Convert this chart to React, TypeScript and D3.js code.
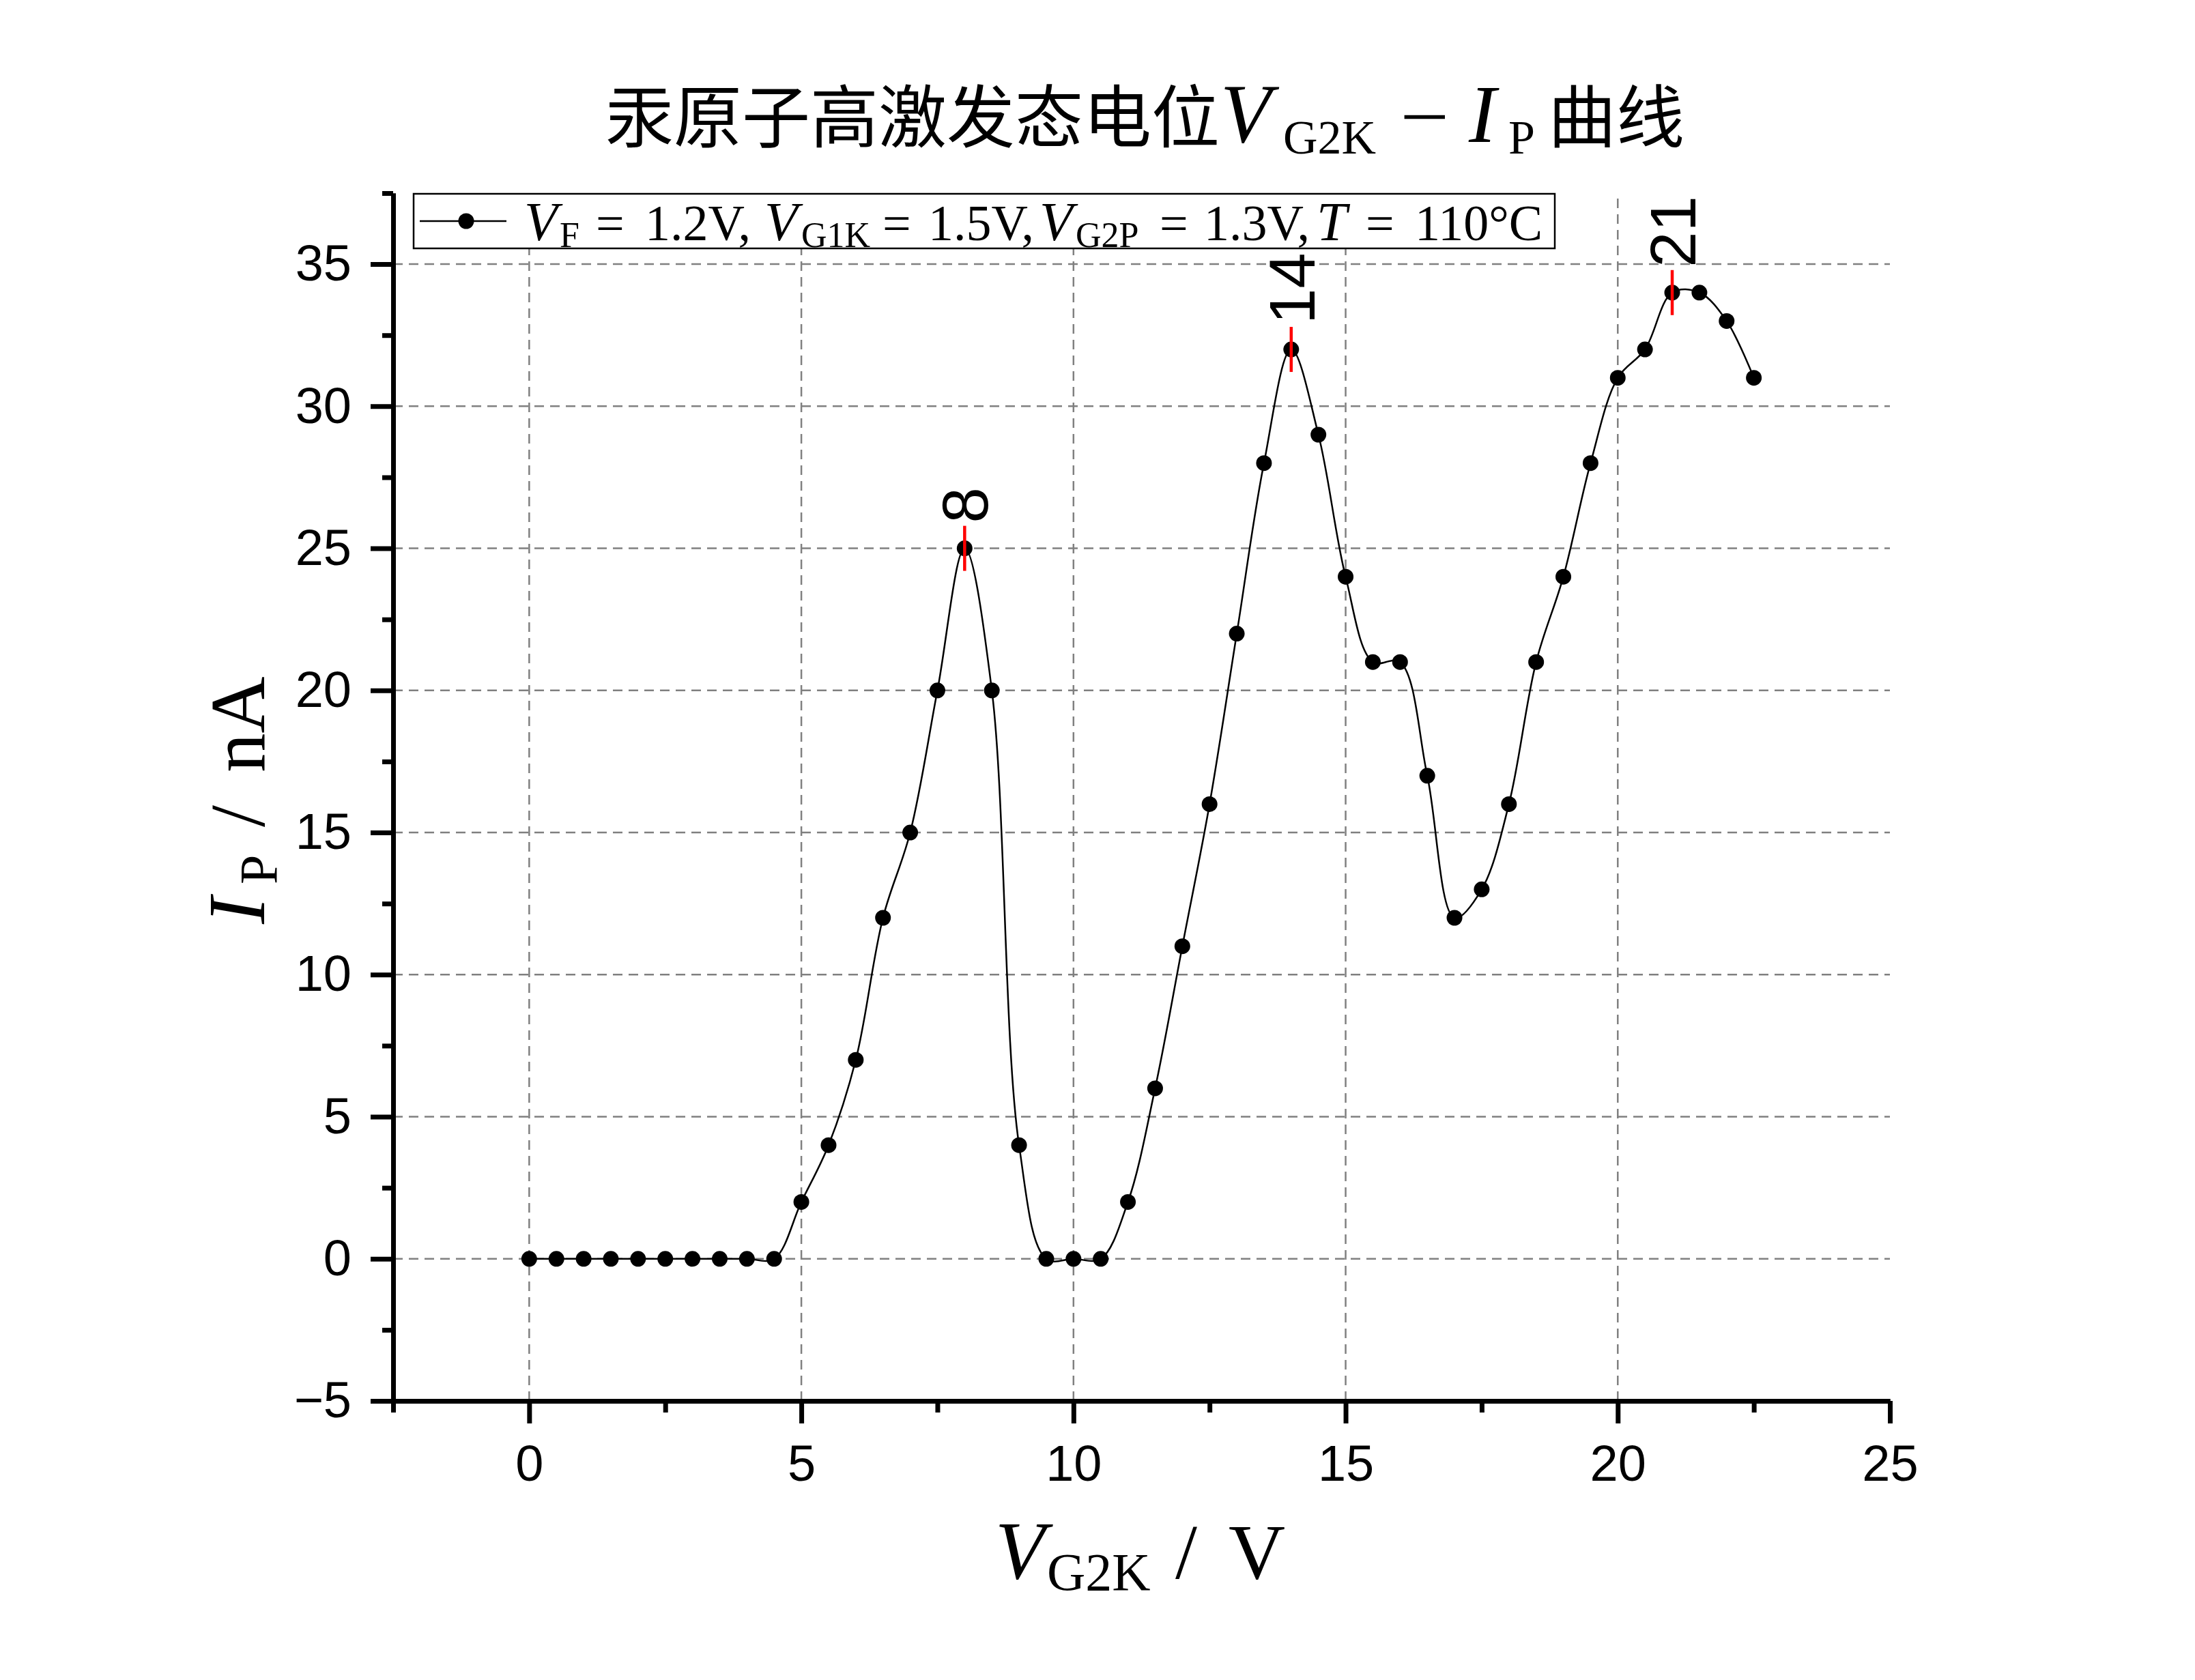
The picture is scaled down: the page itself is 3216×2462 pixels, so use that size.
import React, { useEffect, useRef } from 'react'
import * as d3 from 'd3'

// V_G2K (V) and I_P (nA)
const voltage = [
  0, 0.5, 1, 1.5, 2, 2.5, 3, 3.5, 4, 4.5,
  5, 5.5, 6, 6.5, 7, 7.5, 8, 8.5, 9, 9.5,
  10, 10.5, 11, 11.5, 12, 12.5, 13, 13.5, 14, 14.5,
  15, 15.5, 16, 16.5, 17, 17.5, 18, 18.5, 19, 19.5,
  20, 20.5, 21, 21.5, 22, 22.5,
]
const current = [
  0, 0, 0, 0, 0, 0, 0, 0, 0, 0,
  2, 4, 7, 12, 15, 20, 25, 20, 4, 0,
  0, 0, 2, 6, 11, 16, 22, 28, 32, 29,
  24, 21, 21, 17, 12, 13, 16, 21, 24, 28,
  31, 32, 34, 34, 33, 31,
]
const peakVoltages = [8, 14, 21]
const peakLabels = ['8', '14', '21']

const xTicks = [0, 5, 10, 15, 20, 25]
const xMinorTicks = [-2.5, 2.5, 7.5, 12.5, 17.5, 22.5]
const yTicks = [-5, 0, 5, 10, 15, 20, 25, 30, 35]
const yMinorTicks = [-2.5, 2.5, 7.5, 12.5, 17.5, 22.5, 27.5, 32.5, 37.5]
const xGrid = [0, 5, 10, 15, 20]
const yGrid = [0, 5, 10, 15, 20, 25, 30, 35]

const W = 3216, H = 2462
const left = 576, right = 2769, top = 283, bottom = 2053

const serif = '"Liberation Serif", "DejaVu Serif", serif'
const sans = '"Liberation Sans", Arial, sans-serif'
const cjk = '"Noto Sans CJK SC", sans-serif'

// pieces of a mixed text line: [text, x, size, italic, baseline shift, font, stretch width]
const addPieces = (g, baseY, pieces) => {
  pieces.forEach(([t, x, size, italic, shift, font, len]) => {
    const el = g.append('text')
      .attr('x', x)
      .attr('y', baseY + (shift || 0))
      .attr('font-family', font || serif)
      .attr('font-size', size)
      .attr('font-style', italic ? 'italic' : 'normal')
      .attr('fill', '#000')
      .text(t)
    if (len) el.attr('textLength', len).attr('lengthAdjust', 'spacingAndGlyphs')
  })
}

export default function App() {
  const ref = useRef(null)

  useEffect(() => {
    const svg = d3.select(ref.current)
    svg.selectAll('*').remove()

    const x = d3.scaleLinear().domain([-2.5, 25]).range([left, right])
    const y = d3.scaleLinear().domain([-5, 37.5]).range([bottom, top])

    // grid
    const grid = svg.append('g')
      .attr('stroke', '#808080')
      .attr('stroke-width', 2.5)
      .attr('stroke-dasharray', '14,9')
    grid.selectAll('.vg').data(xGrid).join('line')
      .attr('x1', d => x(d)).attr('x2', d => x(d))
      .attr('y1', bottom).attr('y2', top)
    grid.selectAll('.hg').data(yGrid).join('line')
      .attr('class', 'hg')
      .attr('x1', left).attr('x2', right)
      .attr('y1', d => y(d)).attr('y2', d => y(d))

    // axes
    const styleAxis = g => {
      g.select('.domain').attr('stroke-width', 7).attr('stroke', '#000')
      g.selectAll('.tick line').attr('stroke-width', 7).attr('stroke', '#000')
      g.selectAll('.tick text')
        .attr('font-family', sans)
        .attr('font-size', 74)
        .attr('fill', '#000')
    }

    svg.append('g')
      .attr('transform', `translate(0,${bottom})`)
      .call(d3.axisBottom(x).tickValues(xMinorTicks).tickSize(17).tickSizeOuter(0).tickFormat(() => ''))
      .call(styleAxis)
    svg.append('g')
      .attr('transform', `translate(0,${bottom})`)
      .call(d3.axisBottom(x).tickValues(xTicks).tickSize(33).tickSizeOuter(0).tickPadding(31))
      .call(styleAxis)

    svg.append('g')
      .attr('transform', `translate(${left},0)`)
      .call(d3.axisLeft(y).tickValues(yMinorTicks).tickSize(16).tickSizeOuter(0).tickFormat(() => ''))
      .call(styleAxis)
    svg.append('g')
      .attr('transform', `translate(${left},0)`)
      .call(d3.axisLeft(y).tickValues(yTicks).tickSize(33).tickSizeOuter(0).tickPadding(28))
      .call(styleAxis)

    // curve and points
    const pts = voltage.map((v, i) => [v, current[i]])
    const line = d3.line()
      .x(d => x(d[0]))
      .y(d => y(d[1]))
      .curve(d3.curveCatmullRom)
    svg.append('path')
      .datum(pts)
      .attr('d', line)
      .attr('fill', 'none')
      .attr('stroke', '#000')
      .attr('stroke-width', 2.5)
    svg.append('g')
      .selectAll('circle')
      .data(pts)
      .join('circle')
      .attr('cx', d => x(d[0]))
      .attr('cy', d => y(d[1]))
      .attr('r', 11.5)
      .attr('fill', '#000')

    // peak markers
    peakVoltages.forEach((pv, i) => {
      const val = current[voltage.indexOf(pv)]
      const px = x(pv), py = y(val)
      svg.append('line')
        .attr('x1', px).attr('x2', px)
        .attr('y1', py - 33).attr('y2', py + 33)
        .attr('stroke', '#ff0000')
        .attr('stroke-width', 4.5)
      svg.append('text')
        .attr('transform', `translate(${px},${py - 37}) rotate(-90)`)
        .attr('dy', '0.36em')
        .attr('font-family', sans)
        .attr('font-size', 94)
        .attr('fill', '#000')
        .text(peakLabels[i])
    })

    // legend
    const lg = svg.append('g')
    lg.append('rect')
      .attr('x', 606).attr('y', 284)
      .attr('width', 1672).attr('height', 80)
      .attr('fill', '#fff')
      .attr('stroke', '#000')
      .attr('stroke-width', 2.5)
    lg.append('line')
      .attr('x1', 615).attr('x2', 742)
      .attr('y1', 324).attr('y2', 324)
      .attr('stroke', '#000').attr('stroke-width', 2.5)
    lg.append('circle')
      .attr('cx', 683).attr('cy', 324).attr('r', 11.5).attr('fill', '#000')
    addPieces(lg, 352, [
      ['V', 768, 80, true], ['F', 820, 52, false, 10],
      ['=', 873, 74], ['1.2V,', 945, 74],
      ['V', 1120, 80, true], ['G1K', 1174, 52, false, 10],
      ['=', 1293, 74], ['1.5V,', 1360, 74],
      ['V', 1523, 80, true], ['G2P', 1576, 52, false, 10],
      ['=', 1699, 74], ['1.3V,', 1764, 74],
      ['T', 1929, 80, true],
      ['=', 2001, 74], ['110°C', 2073, 74],
    ])

    // title
    addPieces(svg, 208, [
      ['汞原子高激发态电位', 887, 100, false, 0, cjk],
      ['V', 1788, 122, true],
      ['G2K', 1880, 70, false, 17],
      ['−', 2051, 110, false, 0, serif, 72],
      ['I', 2152, 120, true],
      ['P', 2210, 70, false, 17],
      ['曲线', 2268, 100, false, 0, cjk],
    ])

    // x label
    addPieces(svg, 2313, [
      ['V', 1458, 120, true],
      ['G2K', 1534, 78, false, 17],
      ['/', 1722, 115],
      ['V', 1800, 115],
    ])

    // y label
    const yl = svg.append('g').attr('transform', 'translate(387,0) rotate(-90)')
    addPieces(yl, 0, [
      ['I', -1354, 118, true],
      ['P', -1296, 78, false, 18],
      ['/', -1212, 115],
      ['nA', -1132, 115],
    ])
  }, [])

  return (
    <svg
      ref={ref}
      width={W}
      height={H}
      style={{ position: 'absolute', left: 0, top: 0, background: '#fff' }}
    />
  )
}
